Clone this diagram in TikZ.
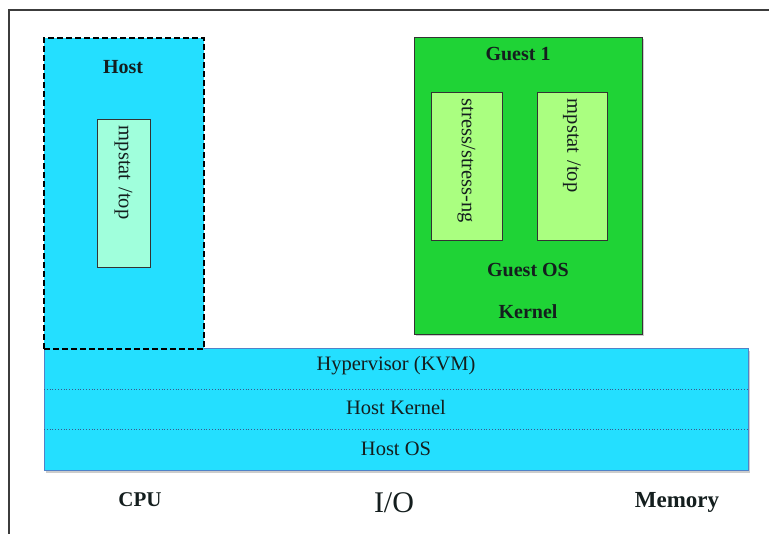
\documentclass[tikz,border=0pt]{standalone}
\usepackage{fontspec}
\setmainfont{Liberation Serif}
\usetikzlibrary{shadows}
\definecolor{hostcyan}{RGB}{36,223,255}
\definecolor{guestgreen}{RGB}{31,211,54}
\definecolor{appgreen}{RGB}{170,255,128}
\definecolor{aqua}{RGB}{160,255,220}
\definecolor{barborder}{RGB}{80,130,200}
\definecolor{txt}{RGB}{20,30,30}
\definecolor{frame}{RGB}{60,60,60}
\begin{document}
\begin{tikzpicture}[x=1pt,y=-1pt,
  every node/.style={text=txt},
  lbl/.style={font=\fontsize{20}{22}\selectfont\bfseries},
  layertext/.style={font=\fontsize{20.5}{22}\selectfont},
  layer/.style={minimum width=704pt,minimum height=40.67pt,inner sep=0pt,anchor=north west},
  appbox/.style={draw=black!80,line width=0.8pt,rotate=-90,align=left,
    font=\fontsize{20.5}{22}\selectfont,inner xsep=7pt,inner ysep=0pt,
    drop shadow={shadow xshift=1pt,shadow yshift=-1pt,opacity=0.35}},
  axis label/.style={font=\fontsize{21}{24}\selectfont\bfseries}
]
\useasboundingbox (0,0) rectangle (769,534);
% page frame
\draw[frame,line width=1.4pt] (9,534) -- (9,10) -- (769,10);

% base bar: hypervisor, host kernel, host OS
\node[draw=barborder,fill=hostcyan,line width=0.8pt,minimum width=704pt,minimum height=122pt,
  inner sep=0pt,anchor=north west,
  drop shadow={shadow xshift=2pt,shadow yshift=-2.5pt,opacity=0.4}] (base) at (44,348) {};
\node[layer] (hyp) at (44,348) {};
\node[layer] (hk) at (44,388.67) {};
\node[layer] (hos) at (44,429.33) {};
\node[layertext] at (396,366) {Hypervisor (KVM)};
\node[layertext] at (396,407) {Host Kernel};
\node[layertext] at (396,449) {Host OS};
\draw[barborder!70!black,dotted,line width=0.8pt] (hyp.south west) -- (hyp.south east);
\draw[barborder!70!black,dotted,line width=0.8pt] (hk.south west) -- (hk.south east);

% host partition
\node[draw=black,dashed,line width=2.2pt,dash pattern=on 6pt off 3pt,fill=hostcyan,
  minimum width=160pt,minimum height=311pt,inner sep=0pt,anchor=north west] (host) at (43,37) {};
\node[lbl] (hostlbl) at (123,67) {Host};
\node[appbox,fill=aqua,text width=134pt,minimum height=53pt] (hmp) at (123.5,193) {mpstat /top};

% guest VM
\node[draw=black!80,fill=guestgreen,line width=0.8pt,minimum width=228pt,minimum height=297pt,
  inner sep=0pt,anchor=north west,
  drop shadow={shadow xshift=2pt,shadow yshift=-2pt,opacity=0.4}] (guest) at (414,37) {};
\node[lbl] (glbl) at (518,54) {Guest 1};
\node[appbox,fill=appgreen,text width=134pt,minimum height=71pt] (stress) at (466.5,166) {stress/stress-ng};
\node[appbox,fill=appgreen,text width=134pt,minimum height=70pt] (gmp) at (572,166) {mpstat /top};
\node[lbl] (gos) at (528,270) {Guest OS};
\node[lbl] (gk) at (528,312) {Kernel};

% resources
\node[axis label] (cpu) at (140,500) {CPU};
\node[font=\fontsize{30}{32}\selectfont] (io) at (394,503) {I/O};
\node[axis label,font=\fontsize{23}{26}\selectfont\bfseries] (mem) at (677,502) {Memory};
\end{tikzpicture}
\end{document}
